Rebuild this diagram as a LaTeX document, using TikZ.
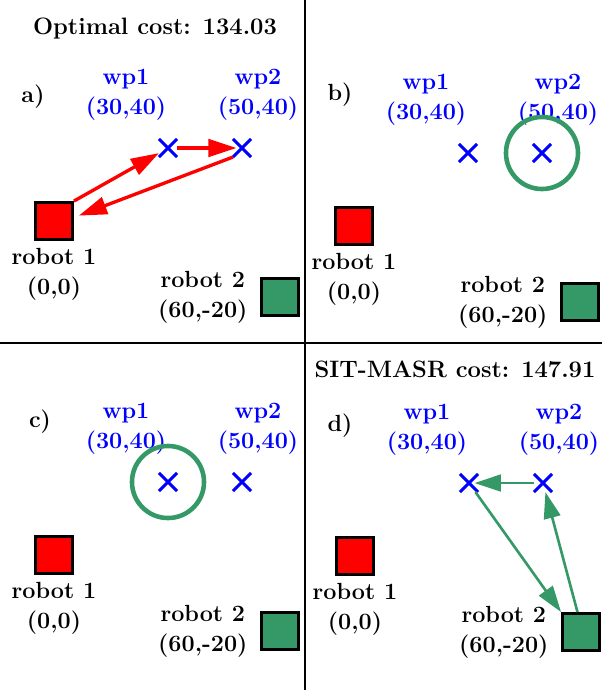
\documentclass[tikz,border=0pt]{standalone}
\usepackage{tikz}
\usetikzlibrary{arrows.meta, positioning, shapes.misc}

\DeclareFontShape{OT1}{cmr}{bx}{n}{<->cmbx10}{}
\definecolor{robotgreen}{RGB}{52,153,102}

\begin{document}
\begin{tikzpicture}[x=0.02cm, y=-0.02cm,
    txt/.style={font=\fontsize{13.3}{17}\selectfont\bfseries, align=center, inner sep=0pt},
    robot/.style={draw=black, line width=1.7pt, minimum size=21pt, inner sep=0pt},
    wp/.style={cross out, draw=blue, line width=1.8pt, minimum size=8.5pt, inner sep=0pt},
    path1/.style={red, line width=1.9pt, -{Triangle[length=16pt, width=10pt]}},
    path2/.style={robotgreen, line width=1.5pt, -{Triangle[length=15pt, width=9.5pt]}},
    ring/.style={robotgreen, line width=2.6pt}]
    \useasboundingbox (0,0) rectangle (602,690);

    % Dividers between the four panels
    \draw[line width=0.8pt] (305,0) -- (305,690);
    \draw[line width=0.8pt] (0,343) -- (602,343);

    % Costs
    \node[txt, font=\fontsize{13.5}{16}\selectfont\bfseries] (optcost) at (155,29) {Optimal cost: 134.03};
    \node[txt, font=\fontsize{13.5}{16}\selectfont\bfseries] (sitcost) at (455,369) {SIT-MASR cost: 147.91};

    % Robots and waypoints, same in every panel
    \foreach \p/\dx/\dy/\lx/\ly in {a/0/0/33/97, b/300/5/40/90, c/0/334/40/88, d/301/335/39/91} {
      \begin{scope}[shift={(\dx,\dy)}]
        \node[txt] (tag\p) at (\lx,\ly) {\p)};
        \node[robot, fill=red] (r1\p) at (54,221) {};
        \node[robot, fill=robotgreen] (r2\p) at (280,297) {};
        \node[wp] (wp1\p) at (168,148) {};
        \node[wp] (wp2\p) at (242,148) {};
        \node[txt, blue] (wp1lbl\p) at (126,95) {wp1\\(30,40)};
        \node[txt, blue] (wp2lbl\p) at (258,95) {wp2\\(50,40)};
        \node[txt, below=4pt of r1\p] (r1lbl\p) {robot 1\\(0,0)};
        \node[txt, left=7pt of r2\p] (r2lbl\p) {robot 2\\(60,-20)};
      \end{scope}
    }

    % a) robot 1 takes both waypoints
    \draw[path1] (r1a.north east) -- (wp1a);
    \draw[path1, shorten >=-2pt] (wp1a) -- (wp2a);
    \draw[path1, shorten >=3pt] (wp2a.south west) -- (r1a.10);

    % b), c) waypoint being assigned
    \draw[ring] (wp2b) circle[radius=20.5pt];
    \draw[ring] (wp1c) circle[radius=20.5pt];

    % d) robot 2 takes both waypoints
    \draw[path2, shorten >=-2pt] (wp2d) -- (wp1d);
    \draw[path2] (wp1d) -- (r2d.north west);
    \draw[path2] (r2d.100) -- (wp2d);
\end{tikzpicture}
\end{document}
